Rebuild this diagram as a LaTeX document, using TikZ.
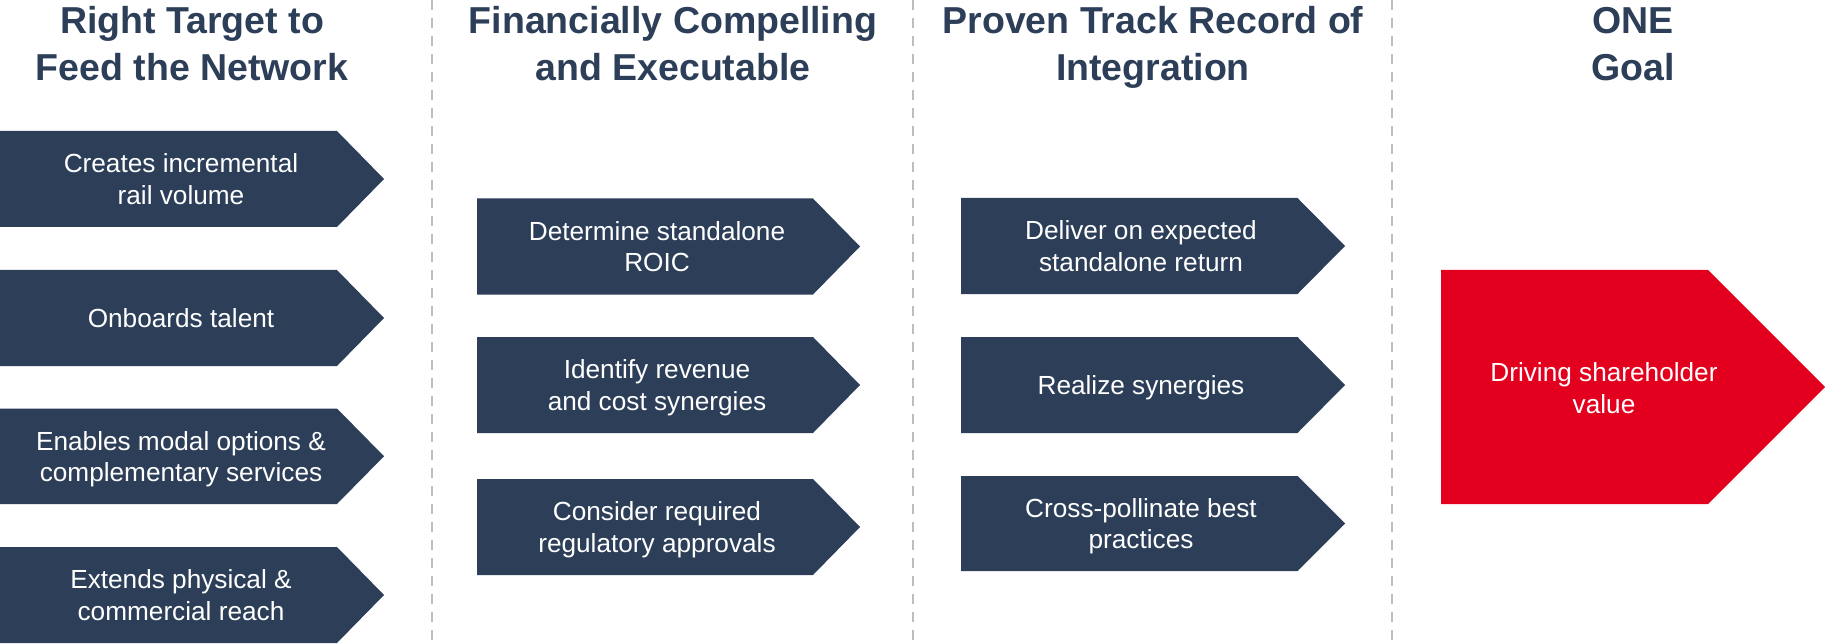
\documentclass[tikz,border=0pt]{standalone}
\usepackage{fontspec}
\setmainfont{Liberation Sans}
\definecolor{navy}{RGB}{44,62,88}
\definecolor{goalred}{RGB}{227,0,30}
\definecolor{divgray}{RGB}{190,190,190}
\newcommand{\chevshape}[6]{% color, x0, x1, xtip, ytop, ybot
  \fill[#1] (#2,#5) -- (#3,#5) -- (#4,{(#5+#6)/2}) -- (#3,#6) -- (#2,#6) -- cycle;}
\begin{document}
\begin{tikzpicture}[x=1pt,y=-1pt,
  head/.style={text=navy, align=center, font=\bfseries\fontsize{37.5}{47.5}\selectfont, inner sep=0pt},
  lbl/.style={text=white, align=center, font=\fontsize{26.2}{31.5}\selectfont, inner sep=0pt},
  divline/.style={draw=divgray, line width=2.2pt, dash pattern=on 10pt off 8pt}]
\useasboundingbox (0,0) rectangle (1825,644);
\fill[white] (0,0) rectangle (1825,644);

% dividers
\coordinate (d1t) at (432,0); \coordinate (d1b) at (432,644);
\coordinate (d2t) at (913,0); \coordinate (d2b) at (913,644);
\coordinate (d3t) at (1392,0); \coordinate (d3b) at (1392,644);
\draw[divline] (d1t) -- (d1b);
\draw[divline] (d2t) -- (d2b);
\draw[divline] (d3t) -- (d3b);

% headers
\node[head] (h1) at (192,47.5) {\strut Right Target to\\\strut Feed the Network};
\node[head] (h2) at (673,47.5) {\strut Financially Compelling\\\strut and Executable};
\node[head] (h3) at (1153,47.5) {\strut Proven Track Record of\\\strut Integration};
\node[head] (h4) at (1633,47.5) {\strut ONE\\\strut Goal};

% column 1
\chevshape{navy}{0}{337}{384}{131}{227}
\chevshape{navy}{0}{337}{384}{270}{366}
\chevshape{navy}{0}{337}{384}{408.5}{504}
\chevshape{navy}{0}{337}{384}{547}{643}
\node[lbl] (a1) at (181,182) {\strut Creates incremental\\\strut rail volume};
\node[lbl] (a2) at (181,321) {\strut Onboards talent};
\node[lbl] (a3) at (181,459.5) {\strut Enables modal options \&\\\strut complementary services};
\node[lbl] (a4) at (181,598) {\strut Extends physical \&\\\strut commercial reach};

% column 2
\chevshape{navy}{477}{813}{860}{198.5}{294.5}
\chevshape{navy}{477}{813}{860}{337}{433}
\chevshape{navy}{477}{813}{860}{479}{575}
\node[lbl] (b1) at (657,249.5) {\strut Determine standalone\\\strut ROIC};
\node[lbl] (b2) at (657,388) {\strut Identify revenue\\\strut and cost synergies};
\node[lbl] (b3) at (657,530) {\strut Consider required\\\strut regulatory approvals};

% column 3
\chevshape{navy}{961}{1297.5}{1345}{198}{294}
\chevshape{navy}{961}{1297.5}{1345}{337}{433}
\chevshape{navy}{961}{1297.5}{1345}{476}{571}
\node[lbl] (c1) at (1141,249) {\strut Deliver on expected\\\strut standalone return};
\node[lbl] (c2) at (1141,388) {\strut Realize synergies};
\node[lbl] (c3) at (1141,526.5) {\strut Cross-pollinate best\\\strut practices};

% goal
\chevshape{goalred}{1441}{1708}{1825}{270}{504}
\node[lbl] (g1) at (1604,391) {\strut Driving shareholder\\\strut value};
\end{tikzpicture}
\end{document}
